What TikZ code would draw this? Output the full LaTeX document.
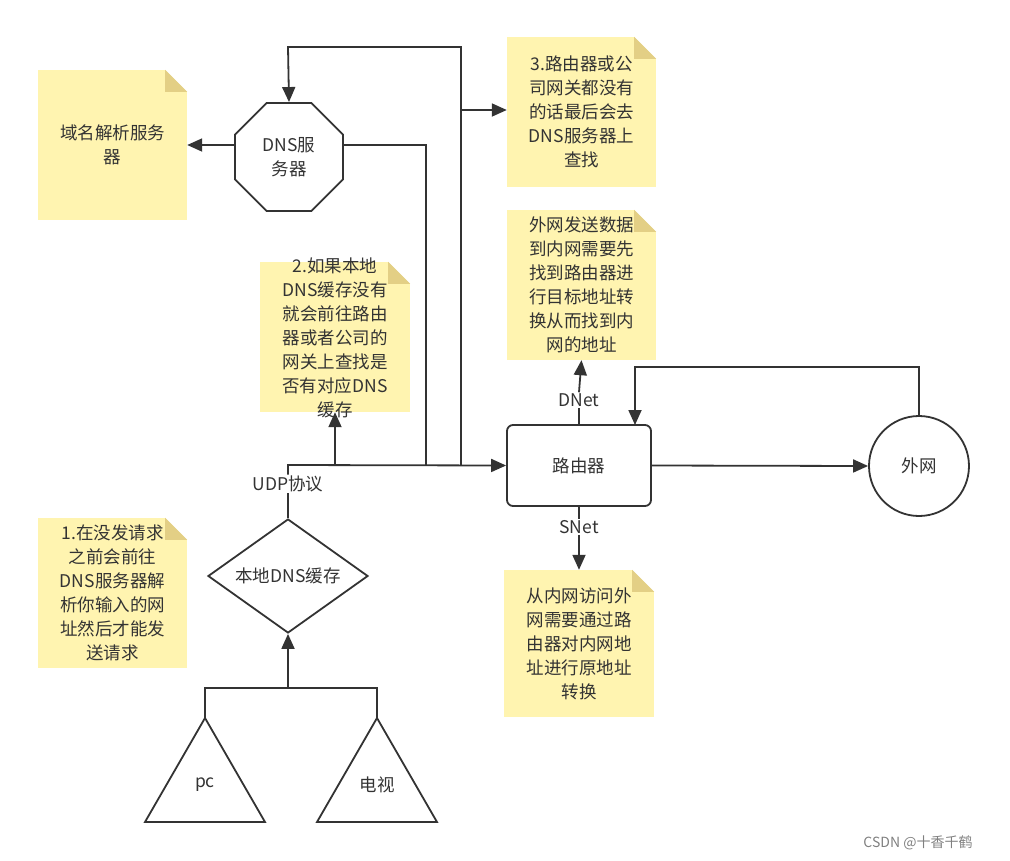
\documentclass[tikz,border=0pt]{standalone}
\usepackage{fontspec}
\setmainfont{Noto Sans CJK SC}
\usetikzlibrary{shapes.geometric,arrows.meta}
\definecolor{notey}{HTML}{FFF4B0}
\definecolor{notef}{HTML}{E3CF85}
\definecolor{ln}{HTML}{333333}
\tikzset{
 every node/.style={font=\fontsize{17.5}{24}\selectfont, text=ln},
 note/.style={fill=notey, draw=none, inner sep=0pt, align=center},
 shp/.style={draw=ln, line width=1.8pt, fill=white, align=center},
 con/.style={draw=ln, line width=1.8pt},
 arr/.style={con, -{Triangle[length=15pt,width=13pt]}},
}
\newcommand{\fold}[1]{%
 \fill[white] (#1.north east) -- ++(-22,0) -- ++(22,22) -- cycle;
 \fill[notef] ([xshift=-22pt]#1.north east) -- ++(0,22) -- ++(22,0) -- cycle;}
\begin{document}
\begin{tikzpicture}[x=1pt,y=-1pt]
\useasboundingbox (0,0) rectangle (1010,860);
% notes
\node[note, minimum width=149, minimum height=150] (nA) at (112.5,145) {域名解析服务\\器};\fold{nA}
\node[note, minimum width=149, minimum height=150] (n3) at (581.5,112) {3.路由器或公\\司网关都没有\\的话最后会去\\DNS服务器上\\查找};\fold{n3}
\node[note, minimum width=149, minimum height=150] (n4) at (581.5,285) {外网发送数据\\到内网需要先\\找到路由器进\\行目标地址转\\换从而找到内\\网的地址};\fold{n4}
\node[note, minimum width=150, minimum height=150] (n2) at (335,337) {};\fold{n2}
\node[align=center] at (335,338) {2.如果本地\\DNS缓存没有\\就会前往路由\\器或者公司的\\网关上查找是\\否有对应DNS\\缓存};
\node[note, minimum width=149, minimum height=150] (n1) at (112.5,593) {1.在没发请求\\之前会前往\\DNS服务器解\\析你输入的网\\址然后才能发\\送请求};\fold{n1}
\node[note, minimum width=150, minimum height=147] (n5) at (579,643.5) {从内网访问外\\网需要通过路\\由器对内网地\\址进行原地址\\转换};\fold{n5}
% shapes
\node[shp, regular polygon, regular polygon sides=8, minimum size=117, inner sep=0pt] (dns) at (289,157) {DNS服\\务器};
\node[shp, rounded corners=6pt, minimum width=144, minimum height=81] (rt) at (579,465.5) {路由器};
\node[shp, circle, minimum size=100, inner sep=0pt] (ext) at (919,466) {外网};
\node[shp, diamond, aspect=1.4, minimum width=160, minimum height=114, inner sep=0pt] (loc) at (288,576) {本地DNS缓存};
\coordinate (pcA) at (205,718);
\coordinate (tvA) at (377,718);
\draw[shp] (pcA) -- (265,822) -- (145,822) -- cycle;
\draw[shp] (tvA) -- (437,822) -- (317,822) -- cycle;
\node (pc) at (205,785) {pc};
\node (tv) at (377,785) {电视};
% connectors
\coordinate (j) at (288,688);
\draw[con] (pcA) -- (205,688) -- (377,688) -- (tvA);
\draw[arr] (j) -- (loc.south);
\node[fill=white, inner sep=1pt] (udp) at (288,484) {UDP协议};
\draw[con] (loc.north) -- (udp.south);
\draw[arr] (udp.north) -- (288,465) -- (rt.west);
\draw[arr] (335,465) -- (n2.south);
\draw[con] (dns.east |- 0,145) -- (426,145) -- (426,465);
\draw[arr] (461,465) -- (461,47) -- (288,47) -- (dns.north);
\draw[arr] (461,110) -- (n3.west |- 0,110);
\draw[arr] (dns.west |- 0,145) -- (nA.east |- 0,145);
\draw[arr] (rt.east) -- (ext.west);
\draw[arr] (ext.north) -- (919,367) -- (635,367) -- (635,425);
\node[fill=white, inner sep=1pt] (dn) at (579,400) {DNet};
\draw[con] (rt.north) -- (dn.south);
\draw[arr] (dn.north) -- (n4.south);
\node[fill=white, inner sep=1pt] (sn) at (579,527) {SNet};
\draw[con] (rt.south) -- (sn.north);
\draw[arr] (sn.south) -- (n5.north);
\node[font=\fontsize{14}{16}\selectfont, text=gray] at (918,843) {CSDN @十香千鹤};
\end{tikzpicture}
\end{document}
